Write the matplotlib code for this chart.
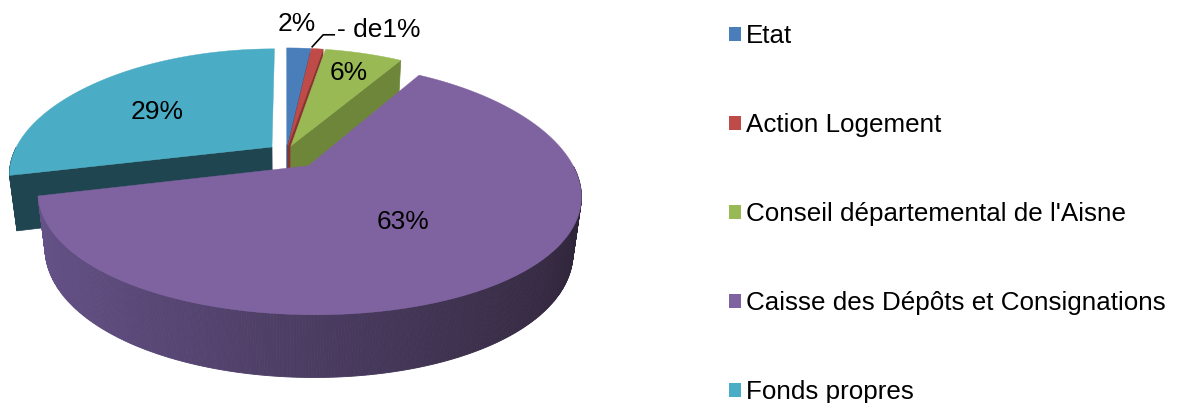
import numpy as np
import matplotlib.pyplot as plt
from matplotlib.patches import Polygon, Patch
from matplotlib.colors import to_rgb

labels = ["Etat", "Action Logement", "Conseil départemental de l'Aisne",
          "Caisse des Dépôts et Consignations", "Fonds propres"]
values = [1.8, 0.9, 5.9, 62.6, 28.8]
pct_labels = ["2%", "- de1%", "6%", "63%", "29%"]

top_colors = ["#4a7ebb", "#be4b48", "#98b954", "#7f63a1", "#4aacc5"]
wall_left = ["#35598a", "#8a3330", "#6e863a", "#66538a", "#1f4550"]
wall_right = ["#35598a", "#8a3330", "#6e863a", "#2f2539", "#1f4550"]
explode = [14, 14, 14, 37, 18]
label_r = [1.3, 1.0, 0.76, 0.53, 0.6]

plt.rcParams["font.family"] = ["Liberation Sans", "DejaVu Sans"]

# fake 3d pie: x right, y away from viewer, z up, simple perspective
R, H = 258, 62
ELEV = np.radians(27)
DIST, DISTX = 1300, 1050
CX, CY = 286, 152


def proj(x, y, z):
    depth = y * np.cos(ELEV) - z * np.sin(ELEV)
    f = DIST / (DIST + depth)
    fx = DISTX / (DISTX + depth)
    up = y * np.sin(ELEV) + z * np.cos(ELEV)
    return np.column_stack([CX + x * fx, CY - up * f])


fig = plt.figure(figsize=(11.84, 4.03), dpi=100)
ax = fig.add_axes([0, 0, 1, 1])
ax.set_xlim(0, 1184)
ax.set_ylim(403, 0)
ax.axis("off")

fracs = np.array(values) / np.sum(values) * 360
a1s = 90 - np.concatenate([[0], np.cumsum(fracs)[:-1]])
a0s = a1s - fracs

for k in [0, 1, 2, 4, 3]:
    a0, a1 = np.radians(a0s[k]), np.radians(a1s[k])
    mid = (a0 + a1) / 2
    ox, oy = explode[k] * np.cos(mid), explode[k] * np.sin(mid)
    ts = np.linspace(a0, a1, max(int(np.degrees(a1 - a0) * 2), 4))
    top = proj(ox + R * np.cos(ts), oy + R * np.sin(ts), 0 * ts)
    bot = proj(ox + R * np.cos(ts), oy + R * np.sin(ts), 0 * ts - H)
    ctop = proj(np.array([ox]), np.array([oy]), np.array([0.0]))[0]
    cbot = proj(np.array([ox]), np.array([oy]), np.array([-H * 1.0]))[0]

    # radial walls
    if np.sin(a0 - np.pi / 2) < -0.01:
        ax.add_patch(Polygon([ctop, top[0], bot[0], cbot], closed=True,
                             facecolor=wall_left[k], edgecolor=wall_left[k], lw=0.5))
    if np.sin(a1 + np.pi / 2) < -0.01:
        ax.add_patch(Polygon([ctop, top[-1], bot[-1], cbot], closed=True,
                             facecolor=wall_left[k], edgecolor=wall_left[k], lw=0.5))

    # outer wall, shaded from left to right
    cl, cr = np.array(to_rgb(wall_left[k])), np.array(to_rgb(wall_right[k]))
    for i in range(len(ts) - 1):
        tm = (ts[i] + ts[i + 1]) / 2
        if np.sin(tm) >= 0:
            continue
        w = (np.cos(tm) + 1) / 2
        c = cl * (1 - w) + cr * w
        ax.add_patch(Polygon([top[i], top[i + 1], bot[i + 1], bot[i]], closed=True,
                             facecolor=c, edgecolor=c, lw=0.6))

    ax.add_patch(Polygon(np.vstack([ctop, top]), closed=True,
                         facecolor=top_colors[k], edgecolor=top_colors[k], lw=0.3))

    # labels
    rr = label_r[k] * R
    lp = proj(np.array([ox + rr * np.cos(mid)]), np.array([oy + rr * np.sin(mid)]), np.array([0.0]))[0]
    if k == 1:
        x0, y0 = lp[0] - 5, lp[1] - 2
        ax.plot([x0, x0 + 11, x0 + 22], [y0, y0 - 12, y0 - 12], color="black", lw=1.2)
        ax.text(x0 + 25, y0 - 17, pct_labels[k], fontsize=19, ha="left", va="center")
    elif k == 0:
        ax.text(lp[0] - 4, lp[1], pct_labels[k], fontsize=19, ha="center", va="center")
    elif k == 4:
        ax.text(lp[0] - 4, lp[1] + 5, pct_labels[k], fontsize=19, ha="center", va="center")
    else:
        ax.text(lp[0], lp[1], pct_labels[k], fontsize=19, ha="center", va="center")

handles = [Patch(facecolor=c, edgecolor="none") for c in top_colors]
ax.legend(handles, labels, loc="upper left", bbox_to_anchor=(0.596, 0.998),
          frameon=False, fontsize=18.7, handlelength=0.45, handleheight=0.45,
          handletextpad=0.2, labelspacing=2.5)

fig.savefig("out.png", dpi=100)
